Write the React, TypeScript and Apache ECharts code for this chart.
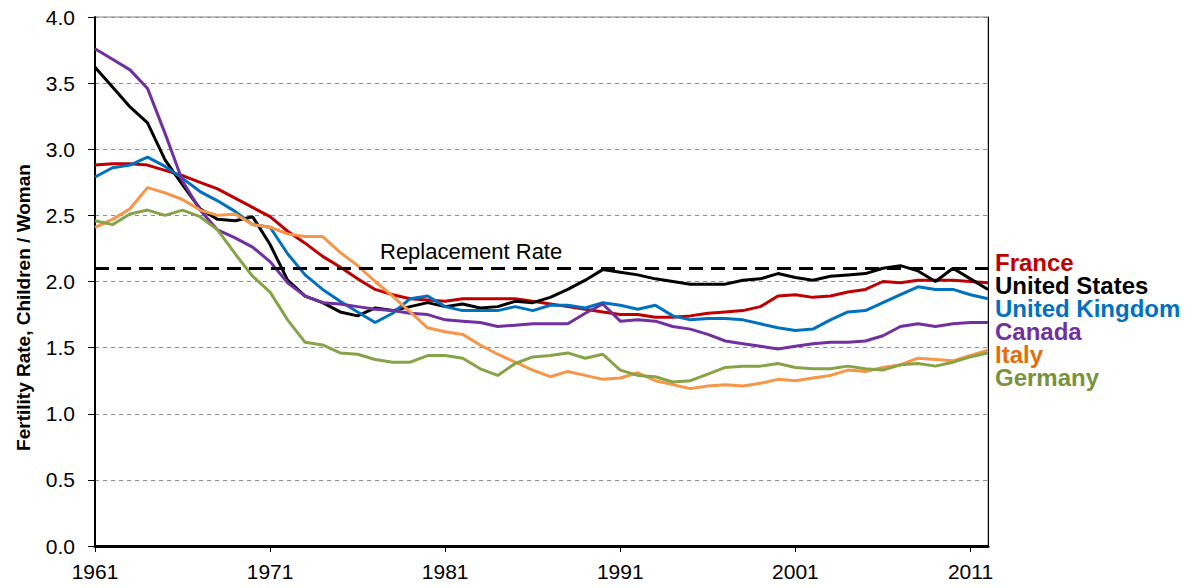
import React, { useEffect, useRef } from "react";
import * as echarts from "echarts";

const years: string[] = [];
for (let y = 1961; y <= 2012; y++) years.push(String(y));

const france = [2.88, 2.89, 2.89, 2.88, 2.84, 2.80, 2.75, 2.70, 2.63, 2.56,
  2.49, 2.38, 2.29, 2.19, 2.11, 2.02, 1.94, 1.90, 1.87, 1.86,
  1.85, 1.87, 1.87, 1.87, 1.87, 1.85, 1.83, 1.81, 1.79, 1.77,
  1.75, 1.75, 1.73, 1.73, 1.74, 1.76, 1.77, 1.78, 1.81, 1.89,
  1.90, 1.88, 1.89, 1.92, 1.94, 2.00, 1.99, 2.01, 2.01, 2.01,
  2.00, 1.99];
const unitedStates = [3.62, 3.47, 3.32, 3.20, 2.92, 2.73, 2.55, 2.47, 2.46, 2.49,
  2.28, 2.01, 1.89, 1.84, 1.77, 1.74, 1.80, 1.78, 1.81, 1.84,
  1.81, 1.83, 1.80, 1.81, 1.85, 1.84, 1.88, 1.94, 2.01, 2.09,
  2.07, 2.05, 2.02, 2.00, 1.98, 1.98, 1.98, 2.01, 2.02, 2.06,
  2.03, 2.01, 2.04, 2.05, 2.06, 2.10, 2.12, 2.08, 2.00, 2.10,
  2.02, 1.94];
const unitedKingdom = [2.79, 2.86, 2.88, 2.94, 2.87, 2.78, 2.68, 2.61, 2.53, 2.43,
  2.41, 2.21, 2.05, 1.94, 1.85, 1.77, 1.69, 1.76, 1.87, 1.89,
  1.81, 1.78, 1.78, 1.78, 1.81, 1.78, 1.82, 1.82, 1.80, 1.84,
  1.82, 1.79, 1.82, 1.74, 1.71, 1.72, 1.72, 1.71, 1.68, 1.65,
  1.63, 1.64, 1.71, 1.77, 1.78, 1.84, 1.90, 1.96, 1.94, 1.94,
  1.90, 1.87];
const canada = [3.76, 3.68, 3.60, 3.46, 3.12, 2.76, 2.54, 2.39, 2.33, 2.26,
  2.15, 1.99, 1.89, 1.84, 1.83, 1.81, 1.79, 1.78, 1.76, 1.75,
  1.71, 1.70, 1.69, 1.66, 1.67, 1.68, 1.68, 1.68, 1.76, 1.83,
  1.70, 1.71, 1.70, 1.66, 1.64, 1.60, 1.55, 1.53, 1.51, 1.49,
  1.51, 1.53, 1.54, 1.54, 1.55, 1.59, 1.66, 1.68, 1.66, 1.68,
  1.69, 1.69];
const italy = [2.41, 2.47, 2.55, 2.71, 2.67, 2.62, 2.54, 2.50, 2.51, 2.43,
  2.41, 2.36, 2.34, 2.34, 2.22, 2.12, 2.00, 1.89, 1.77, 1.65,
  1.62, 1.60, 1.52, 1.45, 1.39, 1.33, 1.28, 1.32, 1.29, 1.26,
  1.27, 1.31, 1.25, 1.22, 1.19, 1.21, 1.22, 1.21, 1.23, 1.26,
  1.25, 1.27, 1.29, 1.33, 1.32, 1.35, 1.37, 1.42, 1.41, 1.40,
  1.44, 1.48];
const germany = [2.46, 2.43, 2.51, 2.54, 2.50, 2.54, 2.49, 2.39, 2.21, 2.04,
  1.92, 1.71, 1.54, 1.52, 1.46, 1.45, 1.41, 1.39, 1.39, 1.44,
  1.44, 1.42, 1.34, 1.29, 1.38, 1.43, 1.44, 1.46, 1.42, 1.45,
  1.33, 1.29, 1.28, 1.24, 1.25, 1.30, 1.35, 1.36, 1.36, 1.38,
  1.35, 1.34, 1.34, 1.36, 1.34, 1.33, 1.37, 1.38, 1.36, 1.39,
  1.43, 1.46];

const replacementRate = 2.1;

const countries = [
  { name: "France", data: france, line: "#C00000", label: "#C00000" },
  { name: "United States", data: unitedStates, line: "#000000", label: "#000000" },
  { name: "United Kingdom", data: unitedKingdom, line: "#0070C0", label: "#0070C0" },
  { name: "Canada", data: canada, line: "#7030A0", label: "#7030A0" },
  { name: "Italy", data: italy, line: "#F79646", label: "#E46C0A" },
  { name: "Germany", data: germany, line: "#86A447", label: "#77933C" },
];

const FONT = "'Liberation Sans', Arial, Helvetica, sans-serif";

export default function App() {
  const ref = useRef<HTMLDivElement>(null);
  useEffect(() => {
    if (!ref.current) return;
    const chart = echarts.init(ref.current, null, { renderer: "svg" });
    const series: any[] = countries.map((c) => ({
      name: c.name,
      type: "line",
      data: c.data,
      symbol: "none",
      showSymbol: false,
      lineStyle: { width: 3, color: c.line },
      itemStyle: { color: c.line },
      z: 3,
    }));
    series[1].markLine = {
      silent: true,
      symbol: "none",
      lineStyle: { color: "#000", width: 3, type: [14, 8] },
      label: {
        show: true,
        position: "insideStartTop",
        formatter: "Replacement Rate",
        distance: [285, 6],
        color: "#000",
        fontSize: 22,
        fontFamily: FONT,
      },
      data: [{ yAxis: replacementRate }],
    };
    chart.setOption({
      animation: false,
      textStyle: { fontFamily: FONT },
      grid: {
        left: 95,
        right: 214,
        top: 17,
        bottom: 42,
        show: true,
        borderColor: "#808080",
        borderWidth: 1,
        backgroundColor: "transparent",
      },
      legend: {
        orient: "vertical",
        left: 990,
        top: 250,
        padding: 0,
        itemGap: -1,
        itemWidth: 0,
        itemHeight: 10,
        icon: "none",
        selectedMode: false,
        textStyle: { fontSize: 24, fontWeight: "bold", lineHeight: 23, fontFamily: FONT },
        data: countries.map((c) => ({ name: c.name, textStyle: { color: c.label } })),
      },
      xAxis: {
        type: "category",
        data: years,
        boundaryGap: false,
        axisLine: { lineStyle: { color: "#000", width: 3 } },
        axisTick: { show: true, interval: 9, length: 6, lineStyle: { color: "#000", width: 1 } },
        axisLabel: { interval: 9, fontSize: 21, color: "#000", margin: 15, fontFamily: FONT },
        splitLine: { show: false },
      },
      yAxis: [
        {
          type: "value",
          min: 0,
          max: 4,
          interval: 0.5,
          name: "Fertility Rate, Children / Woman",
          nameLocation: "middle",
          nameGap: 62,
          nameTextStyle: {
            fontSize: 19,
            fontWeight: "bold",
            color: "#000",
            fontFamily: FONT,
            padding: [0, 52, 0, 0],
          },
          axisLine: { show: true, lineStyle: { color: "#000", width: 2 } },
          axisTick: { show: true, length: 7, lineStyle: { color: "#000" } },
          axisLabel: {
            fontSize: 21,
            color: "#000",
            margin: 20,
            fontFamily: FONT,
            formatter: (v: number) => v.toFixed(1),
          },
          splitLine: { show: true, lineStyle: { color: "#8c8c8c", width: 1, type: [4, 4] } },
        },
        {
          type: "value",
          min: 0,
          max: 4,
          interval: 0.5,
          position: "right",
          axisLine: { show: true, lineStyle: { color: "#000", width: 1 } },
          axisTick: { show: false },
          axisLabel: { show: false },
          splitLine: { show: false },
        },
      ],
      series,
    });
    return () => chart.dispose();
  }, []);
  return (
    <div
      ref={ref}
      style={{ position: "fixed", left: 0, top: 0, width: 1202, height: 588, background: "#fff" }}
    />
  );
}
